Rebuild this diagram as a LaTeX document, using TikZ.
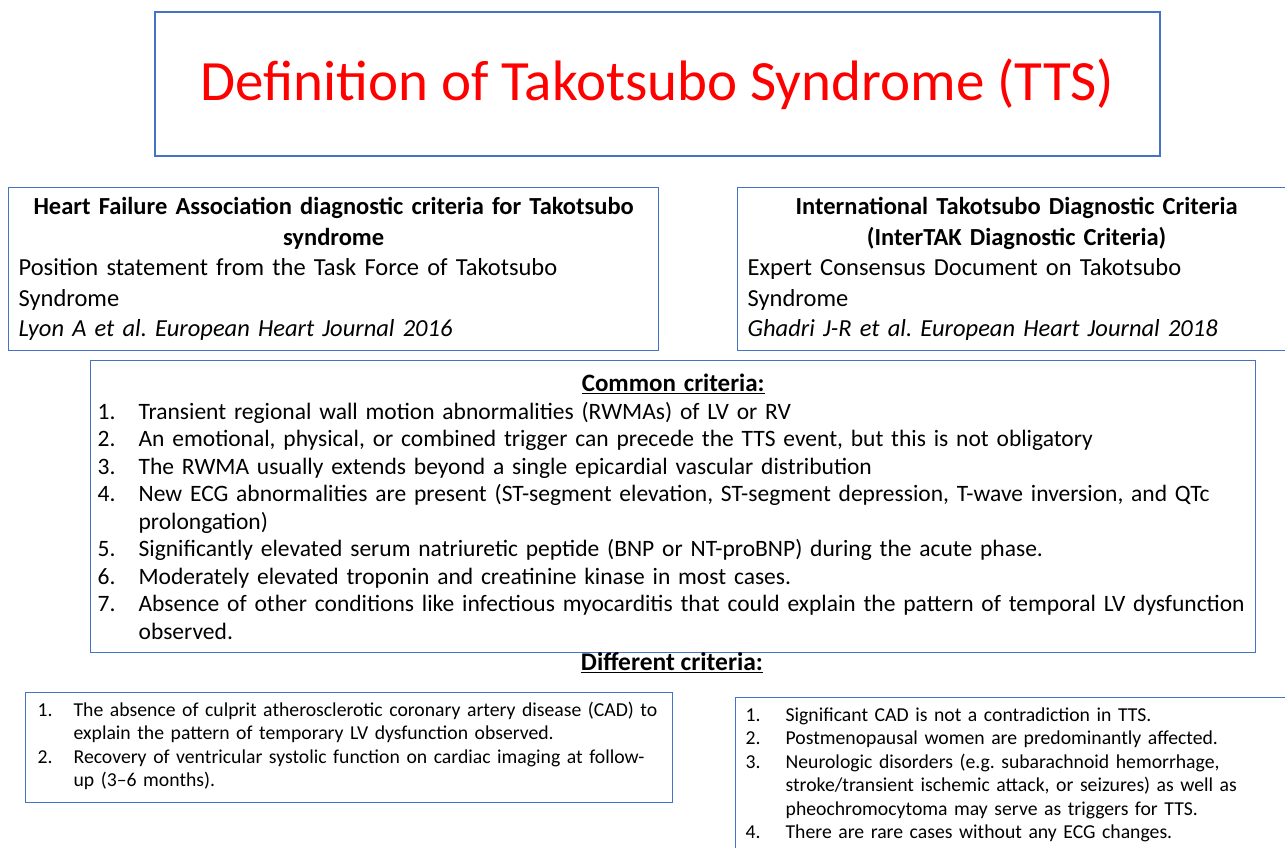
\documentclass[tikz,border=0pt]{standalone}
\usepackage{fontspec}
\setmainfont{Carlito}
\usetikzlibrary{positioning}
\definecolor{boxblue}{RGB}{68,114,196}
\definecolor{titlered}{RGB}{255,0,0}
\newcommand{\critem}[3]{\par\noindent\hangindent=#1\hangafter=1\makebox[#1][l]{#2.}#3\par}
\frenchspacing

\begin{document}
\begin{tikzpicture}[x=1pt,y=-1pt,
    box/.style={rectangle,draw=boxblue,line width=1.3pt,anchor=north west,align=left,inner ysep=6pt,
      execute at begin node=\setlength{\parindent}{0pt}},
    head/.style={font=\fontsize{25.5}{28}\selectfont\bfseries}]
  \clip (0,0) rectangle (1285,848);
  \fill[white] (0,0) rectangle (1285,848);

  \node[rectangle,draw=boxblue,line width=1.3pt,minimum width=1005pt,minimum height=144pt,text=titlered,
    font=\fontsize{57}{66}\selectfont] (title) at (657.5,84) {Definition of Takotsubo Syndrome (TTS)};

  \node[box,inner xsep=10pt,text width=630pt,minimum height=163pt,font=\fontsize{24.5}{30.5}\selectfont] (hfa) at (8,187) {%
    {\centering\bfseries Heart Failure Association diagnostic criteria for Takotsubo\\ syndrome\par}
    Position statement from the Task Force of Takotsubo\newline Syndrome\par
    \textit{Lyon A et al. European Heart Journal 2016}};
  \node[box,inner xsep=10pt,text width=538pt,minimum height=163pt,font=\fontsize{24.5}{30.5}\selectfont] (itak) at (737,187) {%
    {\centering\bfseries International Takotsubo Diagnostic Criteria\\ (InterTAK Diagnostic Criteria)\par}
    Expert Consensus Document on Takotsubo\newline Syndrome\par
    \textit{Ghadri J-R et al. European Heart Journal 2018}};

  \node[box,inner xsep=7pt,text width=1151pt,minimum height=292pt,font=\fontsize{23.5}{27.5}\selectfont] (common) at (90,360) {%
    {\centering\fontsize{25}{27.5}\selectfont\bfseries\underline{Common criteria:}\par}
    \critem{41pt}{1}{Transient regional wall motion abnormalities (RWMAs) of LV or RV}
    \critem{41pt}{2}{An emotional, physical, or combined trigger can precede the TTS event, but this is not obligatory}
    \critem{41pt}{3}{The RWMA usually extends beyond a single epicardial vascular distribution}
    \critem{41pt}{4}{New ECG abnormalities are present (ST-segment elevation, ST-segment depression, T-wave inversion, and QTc\newline prolongation)}
    \critem{41pt}{5}{Significantly elevated serum natriuretic peptide (BNP or NT-proBNP) during the acute phase.}
    \critem{41pt}{6}{Moderately elevated troponin and creatinine kinase in most cases.}
    \critem{41pt}{7}{Absence of other conditions like infectious myocarditis that could explain the pattern of temporal LV dysfunction\newline observed.}};

  \node[head] (diff) at (672,663) {\underline{Different criteria:}};

  \node[box,inner xsep=12pt,inner ysep=0pt,text width=623pt,font=\fontsize{19.7}{23.5}\selectfont] (hfadiff) at (25,692) {%
    \critem{36pt}{1}{The absence of culprit atherosclerotic coronary artery disease (CAD) to\newline explain the pattern of temporary LV dysfunction observed.}
    \critem{36pt}{2}{Recovery of ventricular systolic function on cardiac imaging at follow-\newline up (3--6 months).}
    \kern13pt};

  \node[box,inner xsep=10pt,inner ysep=0pt,text width=580pt,font=\fontsize{19.7}{23.5}\selectfont] (itakdiff) at (735,697) {%
    \critem{40pt}{1}{Significant CAD is not a contradiction in TTS.}
    \critem{40pt}{2}{Postmenopausal women are predominantly affected.}
    \critem{40pt}{3}{Neurologic disorders (e.g. subarachnoid hemorrhage,\newline stroke/transient ischemic attack, or seizures) as well as\newline pheochromocytoma may serve as triggers for TTS.}
    \critem{40pt}{4}{There are rare cases without any ECG changes.}
    \kern30pt};
\end{tikzpicture}
\end{document}
